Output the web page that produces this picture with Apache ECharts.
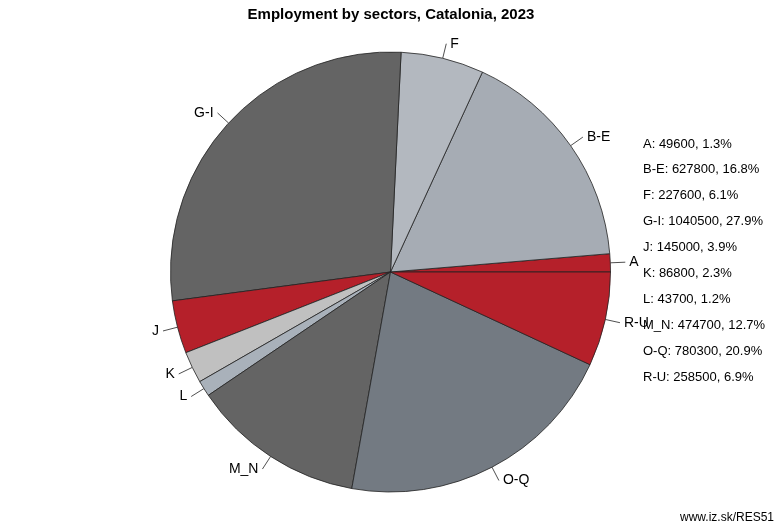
<!DOCTYPE html>
<html>
<head>
<meta charset="utf-8">
<script src="https://cdn.jsdelivr.net/npm/echarts@6/dist/echarts.min.js"></script>
<style>html,body{margin:0;padding:0;background:#fff}#c{width:782px;height:532px}</style>
</head>
<body>
<div id="c"></div>
<script>
var categories = ['A','B-E','F','G-I','J','K','L','M_N','O-Q','R-U'];
var values = [49600,627800,227600,1040500,145000,86800,43700,474700,780300,258500];
var colors = ['#b5202a','#a6acb4','#b3b8bf','#646464','#b5202a','#c0c0c0','#a9b1ba','#646464','#737a82','#b5202a'];
var total = values.reduce(function(a,b){return a+b;},0);
var chart = echarts.init(document.getElementById('c'));
chart.setOption({
  animation:false,
  backgroundColor:'#fff',
  title:{text:'Employment by sectors, Catalonia, 2023',left:'center',top:2,
    textStyle:{fontFamily:'Liberation Sans',fontSize:15,fontWeight:'bold',color:'#000'}},
  graphic:[{type:'text',right:8,bottom:8,style:{text:'www.iz.sk/RES51',font:'12px "Liberation Sans"',fill:'#000'}}],
  legend:{orient:'vertical',left:633,top:132,itemGap:12.4,icon:'none',itemWidth:0,itemHeight:14,selectedMode:false,
    textStyle:{fontFamily:'Liberation Sans',fontSize:13,color:'#000'},
    formatter:function(n){var i=categories.indexOf(n);return n+': '+values[i]+', '+(values[i]/total*100).toFixed(1)+'%';},
    data:categories},
  series:[{type:'pie',center:[390.5,272],radius:[0,220],startAngle:0,clockwise:false,
    avoidLabelOverlap:false,
    itemStyle:{borderColor:'#222',borderWidth:0.8},
    label:{show:true,formatter:'{b}',fontFamily:'Liberation Sans',fontSize:14,color:'#000',distanceToLabelLine:4},
    labelLine:{show:true,length:15,length2:0,lineStyle:{color:'#222',width:0.8}},
    emphasis:{disabled:true},
    data:categories.map(function(c,i){return {name:c,value:values[i],itemStyle:{color:colors[i]}};})
  }]
});
</script>
</body>
</html>
